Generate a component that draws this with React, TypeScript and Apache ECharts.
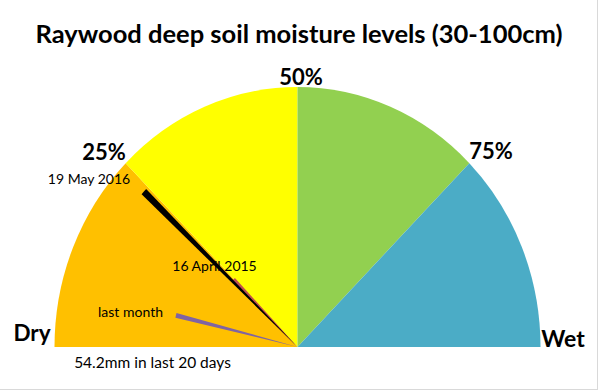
import React, { useEffect, useRef } from 'react';
import * as echarts from 'echarts';

const titleText = 'Raywood deep soil moisture levels (30-100cm)';

// Gauge bands (percent of full scale)
const bandStart = [0, 25, 50, 75];
const bandEnd = [25, 50, 75, 100];
const bandColors = ['#FFC000', '#FFFF00', '#92D050', '#4BACC6'];

// Needles (percent span and length as fraction of radius)
const needleLabels = ['16 April 2015', '19 May 2016', 'last month'];
const needleStart = [24.0, 23.6, 7.0];
const needleEnd = [25.5, 24.6, 8.2];
const needleLength = [0.37, 0.87, 0.515];
const needleColors = ['#C0504D', '#000000', '#8064A2'];

const scaleLabels = ['25%', '50%', '75%'];
const endLabels = ['Dry', 'Wet'];
const rainNote = '54.2mm in last 20 days';

const FONT = 'Lato, "Open Sans", sans-serif';
const CX = 297.5;
const CY = 347;
const RX = 243;
const RY = 260;

function text(str: string, x: number, y: number, size: number, bold: boolean) {
  return {
    type: 'text',
    x,
    y,
    z: 100,
    silent: true,
    style: {
      text: str,
      font: `${bold ? 'bold ' : ''}${size}px ${FONT}`,
      fill: '#000',
      align: 'center',
      verticalAlign: 'middle',
      textAlign: 'center',
      textVerticalAlign: 'middle',
    },
  };
}

export default function App() {
  const ref = useRef<HTMLDivElement>(null);
  useEffect(() => {
    if (!ref.current) return;
    const chart = echarts.init(ref.current, undefined, { renderer: 'svg' });

    const bandData = bandStart.map((s, i) => [s, bandEnd[i], 1, i]);
    const needleData = needleStart.map((s, i) => [s, needleEnd[i], needleLength[i], i]);

    const makeRender = (colors: string[]) => (params: any, api: any) => {
      const s = api.value(0);
      const e = api.value(1);
      const len = api.value(2);
      const idx = api.value(3);
      const cs = params.coordSys;
      const cx = cs.cx;
      const cy = cs.cy;
      const norm = (p: number[]) => {
        let a = Math.atan2(p[1] - cy, p[0] - cx);
        if (a > 1e-6) a -= 2 * Math.PI;
        return a;
      };
      const p0 = api.coord([len, s]);
      const p1 = api.coord([len, e]);
      const r = Math.hypot(p0[0] - cx, p0[1] - cy);
      return {
        type: 'sector',
        shape: {
          cx,
          cy,
          r0: 0,
          r,
          startAngle: norm(p0),
          endAngle: norm(p1),
          clockwise: true,
        },
        originX: cx,
        originY: cy,
        scaleY: RY / RX,
        style: { fill: colors[idx] },
      };
    };

    chart.setOption({
      animation: false,
      polar: { center: [CX, CY], radius: RX },
      angleAxis: {
        type: 'value',
        min: 0,
        max: 200,
        startAngle: 180,
        clockwise: true,
        show: false,
      },
      radiusAxis: { type: 'value', min: 0, max: 1, show: false },
      series: [
        {
          type: 'custom',
          coordinateSystem: 'polar',
          dimensions: ['start', 'end', 'len', 'idx'],
          encode: { angle: 0, radius: 2 },
          data: bandData,
          renderItem: makeRender(bandColors),
          silent: true,
          z: 1,
        },
        {
          type: 'custom',
          coordinateSystem: 'polar',
          dimensions: ['start', 'end', 'len', 'idx'],
          encode: { angle: 0, radius: 2 },
          data: needleData,
          renderItem: makeRender(needleColors),
          silent: true,
          z: 2,
        },
      ],
      graphic: [
        {
          type: 'line',
          shape: { x1: 597.5, y1: 0, x2: 597.5, y2: 389 },
          style: { stroke: '#D9D9D9', lineWidth: 1 },
          silent: true,
        },
        {
          type: 'line',
          shape: { x1: 0, y1: 389.5, x2: 598, y2: 389.5 },
          style: { stroke: '#D9D9D9', lineWidth: 1 },
          silent: true,
        },
        text(titleText, 299, 32.5, 25.5, true),
        text(scaleLabels[0], 104, 151, 22, true),
        text(scaleLabels[1], 301, 76, 22, true),
        text(scaleLabels[2], 491, 150, 22, true),
        text(endLabels[0], 32, 332, 22.5, true),
        text(endLabels[1], 563, 338, 23, true),
        text(needleLabels[1], 89, 178.5, 14, false),
        text(needleLabels[0], 214.5, 265, 14, false),
        text(needleLabels[2], 130.5, 311, 14, false),
        text(rainNote, 152.5, 362, 15.5, false),
      ],
    });
    return () => chart.dispose();
  }, []);
  return (
    <div
      ref={ref}
      style={{ position: 'fixed', left: 0, top: 0, width: 600, height: 391, background: '#fff' }}
    />
  );
}
